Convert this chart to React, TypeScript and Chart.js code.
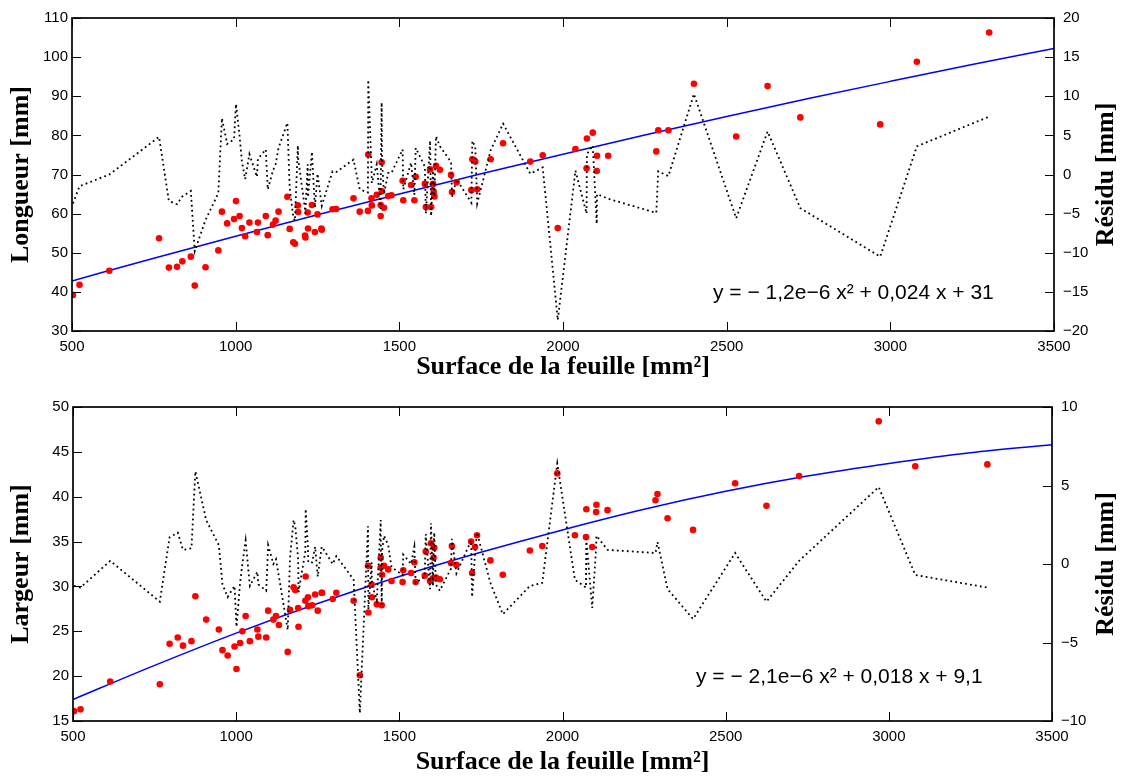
import { useEffect, useRef } from "react";
import { Chart, registerables } from "chart.js";

Chart.register(...registerables);

// ---- data ----
const surface = [
  503, 523, 614, 766, 796, 821, 837, 863, 875, 908,
  947, 958, 974, 995, 1001, 1012, 1019, 1029, 1042, 1065,
  1068, 1092, 1098, 1114, 1122, 1131, 1158, 1165, 1176, 1181,
  1190, 1191, 1212, 1213, 1220, 1221, 1233, 1242, 1250, 1262,
  1263, 1296, 1307, 1360, 1379, 1404, 1405, 1415, 1416, 1431,
  1443, 1443, 1446, 1447, 1453, 1466, 1476, 1510, 1512, 1536,
  1546, 1550, 1578, 1581, 1594, 1597, 1603, 1605, 1607, 1612,
  1624, 1658, 1661, 1675, 1720, 1723, 1732, 1738, 1779, 1817,
  1900, 1938, 1984, 2038, 2072, 2073, 2091, 2103, 2104, 2138,
  2285, 2291, 2322, 2400, 2529, 2625, 2725, 2969, 3081, 3302,
];

const longueur = [
  39.2, 41.8, 45.4, 53.7, 46.2, 46.4, 47.8, 49.0, 41.6, 46.3,
  50.6, 60.5, 57.5, 58.6, 63.2, 59.4, 56.3, 54.2, 57.7, 55.3,
  57.7, 59.4, 54.5, 57.2, 58.2, 60.5, 64.3, 56.1, 52.7, 52.3,
  62.1, 60.4, 54.4, 53.9, 60.3, 56.2, 62.2, 55.3, 59.8, 56.2,
  55.9, 61.1, 61.2, 63.9, 60.5, 60.7, 75.1, 63.9, 62.1, 64.8,
  59.4, 62.2, 73.1, 65.7, 61.5, 64.5, 64.7, 68.4, 63.4, 67.3,
  63.4, 69.4, 67.6, 61.7, 71.3, 61.7, 67.6, 65.6, 64.4, 72.2,
  71.2, 69.9, 65.5, 68.0, 66.0, 73.9, 73.3, 66.2, 73.9, 78.0,
  73.3, 74.9, 56.3, 76.5, 71.6, 79.2, 80.7, 70.9, 74.8, 74.8,
  75.9, 81.3, 81.3, 93.2, 79.7, 92.6, 84.6, 82.8, 98.8, 106.3,
];

const residuLongueur = [
  -3.7, -1.5, 0.0, 4.8, -3.4, -3.8, -2.8, -2.1, -9.8, -5.8,
  -2.4, 7.2, 3.9, 4.5, 9.0, 4.9, 1.7, -0.6, 2.6, -0.3,
  2.0, 3.2, -1.9, 0.5, 1.3, 3.4, 6.6, -1.7, -5.4, -5.9,
  3.7, 2.0, -4.5, -5.0, 1.3, -2.9, 2.9, -4.2, 0.1, -3.7,
  -4.0, 0.4, 0.3, 1.9, -1.9, -2.3, 12.1, 0.7, -1.1, 1.3,
  -4.4, -1.6, 9.2, 1.8, -2.5, 0.2, 0.2, 3.2, -1.9, 1.5,
  -2.6, 3.4, 1.0, -5.0, 4.3, -5.3, 0.5, -1.6, -2.8, 4.9,
  3.6, 1.6, -2.9, -0.6, -3.6, 4.3, 3.5, -3.7, 3.1, 6.5,
  0.1, 0.9, -18.6, 0.5, -5.0, 2.6, 3.7, -6.3, -2.5, -3.1,
  -4.9, 0.4, -0.2, 10.3, -5.6, 5.5, -4.3, -10.5, 3.6, 7.4,
];

const largeur = [
  16.1, 16.3, 19.4, 19.1, 23.6, 24.3, 23.4, 23.9, 28.9, 26.3,
  25.2, 22.9, 22.3, 23.3, 20.8, 23.7, 25.0, 26.7, 23.9, 25.2,
  24.4, 24.3, 27.3, 26.3, 26.7, 25.7, 22.7, 27.4, 29.9, 29.6,
  27.6, 25.5, 28.4, 31.1, 28.8, 27.8, 27.9, 29.1, 27.3, 29.3,
  29.3, 28.6, 29.3, 28.4, 20.1, 32.3, 27.1, 30.2, 28.8, 28.0,
  33.2, 32.1, 27.9, 31.3, 32.3, 31.9, 30.6, 30.5, 31.8, 31.5,
  32.7, 30.5, 31.2, 33.9, 30.6, 34.8, 30.9, 33.2, 34.3, 31.0,
  30.8, 32.6, 34.5, 32.4, 35.0, 31.5, 34.4, 35.7, 32.9, 31.3,
  34.0, 34.5, 42.6, 35.7, 35.5, 38.6, 34.4, 38.3, 39.1, 38.5,
  39.6, 40.3, 37.6, 36.3, 41.5, 39.0, 42.3, 48.4, 43.4, 43.6,
];

const residuLargeur = [
  -1.4, -1.5, 0.2, -2.4, 1.7, 2.0, 0.9, 1.0, 5.9, 2.8,
  1.2, -1.3, -2.1, -1.4, -4.0, -1.2, 0.0, 1.5, -1.4, -0.5,
  -1.3, -1.7, 1.2, 0.0, 0.3, -0.8, -4.2, 0.4, 2.8, 2.4,
  0.3, -1.8, 0.8, 3.5, 1.1, 0.1, 0.1, 1.1, -0.8, 1.1,
  1.1, 0.0, 0.5, -1.0, -9.5, 2.4, -2.9, 0.1, -1.3, -2.3,
  2.8, 1.7, -2.6, 0.8, 1.8, 1.2, -0.2, -0.7, 0.6, 0.0,
  1.1, -1.2, -0.8, 1.9, -1.6, 2.6, -1.4, 0.9, 2.0, -1.3,
  -1.7, -0.3, 1.6, -0.6, 1.5, -2.1, 0.7, 2.0, -1.2, -3.2,
  -1.4, -1.2, 6.4, -1.0, -1.5, 1.6, -2.8, 1.0, 1.8, 0.9,
  0.7, 1.4, -1.6, -3.5, 0.7, -2.4, 0.2, 4.9, -0.7, -1.5,
];

const fitSurface = [500, 750, 1000, 1250, 1500, 1750, 2000, 2250, 2500, 2750, 3000, 3250, 3500];
const fitLongueur = [42.8, 48.6, 54.2, 59.7, 65.0, 70.2, 75.2, 80.1, 84.8, 89.4, 93.8, 98.1, 102.2];
const fitLargeur = [17.4, 21.2, 24.8, 28.1, 31.1, 33.8, 36.3, 38.6, 40.6, 42.3, 43.7, 44.9, 45.8];

const xTitle = "Surface de la feuille [mm²]";
const residuTitle = "Résidu [mm]";
const eqLongueur = "y = − 1,2e−6 x² + 0,024 x + 31";
const eqLargeur = "y = − 2,1e−6 x² + 0,018 x + 9,1";

// ---- styling ----
const TICK_FONT = { family: '"Liberation Sans", Arial, sans-serif', size: 15 };
const TITLE_FONT = { family: '"Liberation Serif", "Times New Roman", serif', size: 26, weight: "bold" as const };

const fmt = (v: any) => {
  const n = Number(v);
  return n < 0 ? "\u2212" + Math.abs(n) : String(n);
};

const framePlugin = {
  id: "frame",
  afterDraw(chart: any, _args: any, opts: any) {
    const { ctx, chartArea: a, scales } = chart;
    const tl = 9;
    ctx.save();
    ctx.strokeStyle = "#000";
    ctx.lineWidth = 1;
    ctx.beginPath();
    scales.x.ticks.forEach((t: any) => {
      const px = Math.round(scales.x.getPixelForValue(t.value)) + 0.5;
      ctx.moveTo(px, a.bottom);
      ctx.lineTo(px, a.bottom - tl);
      ctx.moveTo(px, a.top);
      ctx.lineTo(px, a.top + tl);
    });
    scales.y.ticks.forEach((t: any) => {
      const py = Math.round(scales.y.getPixelForValue(t.value)) + 0.5;
      ctx.moveTo(a.left, py);
      ctx.lineTo(a.left + tl, py);
    });
    scales.y2.ticks.forEach((t: any) => {
      const py = Math.round(scales.y2.getPixelForValue(t.value)) + 0.5;
      ctx.moveTo(a.right, py);
      ctx.lineTo(a.right - tl, py);
    });
    ctx.stroke();
    ctx.lineWidth = 1.7;
    ctx.strokeRect(a.left, a.top, a.right - a.left, a.bottom - a.top);

    // equation
    ctx.fillStyle = "#000";
    ctx.font = '21px "Liberation Sans", Arial, sans-serif';
    ctx.textAlign = "left";
    ctx.textBaseline = "alphabetic";
    ctx.fillText(opts.equation, opts.eqX, opts.eqY);

    // right-hand axis title (reads bottom to top)
    ctx.font = 'bold 26px "Liberation Serif", "Times New Roman", serif';
    ctx.translate(opts.rightTitleX, (a.top + a.bottom) / 2);
    ctx.rotate(-Math.PI / 2);
    ctx.textAlign = "center";
    ctx.textBaseline = "middle";
    ctx.fillText(opts.rightTitle, 0, 0);
    ctx.restore();
  },
};

type PanelCfg = {
  values: number[];
  residus: number[];
  fit: number[];
  yTitle: string;
  yMin: number;
  yMax: number;
  yStep: number;
  rMin: number;
  rMax: number;
  rStep: number;
  padTop: number;
  xHeight: number;
  xTitlePad: number;
  leftW: number;
  rightW: number;
  equation: string;
  eqX: number;
  eqY: number;
};

function makeChart(canvas: HTMLCanvasElement, c: PanelCfg) {
  return new Chart(canvas, {
    type: "line",
    data: {
      datasets: [
        {
          type: "line",
          data: surface.map((x, i) => ({ x, y: c.residus[i] })),
          yAxisID: "y2",
          borderColor: "#000",
          borderWidth: 1.8,
          borderDash: [1.8, 3.2],
          pointRadius: 0,
          fill: false,
          tension: 0,
          order: 0,
        } as any,
        {
          type: "scatter",
          data: surface.map((x, i) => ({ x, y: c.values[i] })),
          yAxisID: "y",
          backgroundColor: "#ff0000",
          borderColor: "#ff0000",
          borderWidth: 0,
          pointRadius: 3.3,
          order: 1,
        } as any,
        {
          type: "line",
          data: fitSurface.map((x, i) => ({ x, y: c.fit[i] })),
          yAxisID: "y",
          borderColor: "#0000ff",
          borderWidth: 1.5,
          pointRadius: 0,
          fill: false,
          cubicInterpolationMode: "monotone",
          order: 2,
        } as any,
      ],
    },
    options: {
      responsive: false,
      animation: false,
      devicePixelRatio: 1,
      layout: { padding: { top: c.padTop, left: 0, right: 0, bottom: 0 } },
      plugins: {
        legend: { display: false },
        tooltip: { enabled: false },
        frame: {
          equation: c.equation,
          eqX: c.eqX,
          eqY: c.eqY,
          rightTitle: residuTitle,
          rightTitleX: 1106,
        },
      } as any,
      scales: {
        x: {
          type: "linear",
          position: "bottom",
          min: 500,
          max: 3500,
          ticks: { stepSize: 500, padding: 7, color: "#000", font: TICK_FONT, callback: fmt, maxRotation: 0, autoSkip: false },
          grid: { display: false, drawTicks: false },
          border: { display: false },
          title: { display: true, text: xTitle, color: "#000", font: TITLE_FONT, padding: { top: 0, bottom: c.xTitlePad } },
          afterFit: (s: any) => {
            s.height = c.xHeight;
          },
        },
        y: {
          type: "linear",
          position: "left",
          min: c.yMin,
          max: c.yMax,
          ticks: { stepSize: c.yStep, padding: 4, color: "#000", font: TICK_FONT, callback: fmt },
          grid: { display: false, drawTicks: false },
          border: { display: false },
          title: { display: true, text: c.yTitle, color: "#000", font: TITLE_FONT, padding: { top: 6, bottom: 0 } },
          afterFit: (s: any) => {
            s.width = c.leftW;
          },
        },
        y2: {
          type: "linear",
          position: "right",
          min: c.rMin,
          max: c.rMax,
          ticks: { stepSize: c.rStep, padding: 9, color: "#000", font: TICK_FONT, callback: fmt },
          grid: { display: false, drawTicks: false },
          border: { display: false },
          afterFit: (s: any) => {
            s.width = c.rightW;
          },
        },
      },
    } as any,
    plugins: [framePlugin],
  });
}

export default function App() {
  const topRef = useRef<HTMLCanvasElement>(null);
  const botRef = useRef<HTMLCanvasElement>(null);

  useEffect(() => {
    const c1 = makeChart(topRef.current!, {
      values: longueur,
      residus: residuLongueur,
      fit: fitLongueur,
      yTitle: "Longueur [mm]",
      yMin: 30,
      yMax: 110,
      yStep: 10,
      rMin: -20,
      rMax: 20,
      rStep: 5,
      padTop: 16,
      xHeight: 58,
      xTitlePad: 6,
      leftW: 72,
      rightW: 72,
      equation: eqLongueur,
      eqX: 713,
      eqY: 299,
    });
    const c2 = makeChart(botRef.current!, {
      values: largeur,
      residus: residuLargeur,
      fit: fitLargeur,
      yTitle: "Largeur [mm]",
      yMin: 15,
      yMax: 50,
      yStep: 5,
      rMin: -10,
      rMax: 10,
      rStep: 5,
      padTop: 18,
      xHeight: 57,
      xTitlePad: 0,
      leftW: 73,
      rightW: 74,
      equation: eqLargeur,
      eqX: 696,
      eqY: 294,
    });
    return () => {
      c1.destroy();
      c2.destroy();
    };
  }, []);

  return (
    <div style={{ position: "absolute", left: 0, top: 0, width: 1126, height: 778, background: "#fff" }}>
      <canvas ref={topRef} width={1126} height={389} style={{ position: "absolute", left: 0, top: 0 }} />
      <canvas ref={botRef} width={1126} height={389} style={{ position: "absolute", left: 0, top: 389 }} />
    </div>
  );
}
